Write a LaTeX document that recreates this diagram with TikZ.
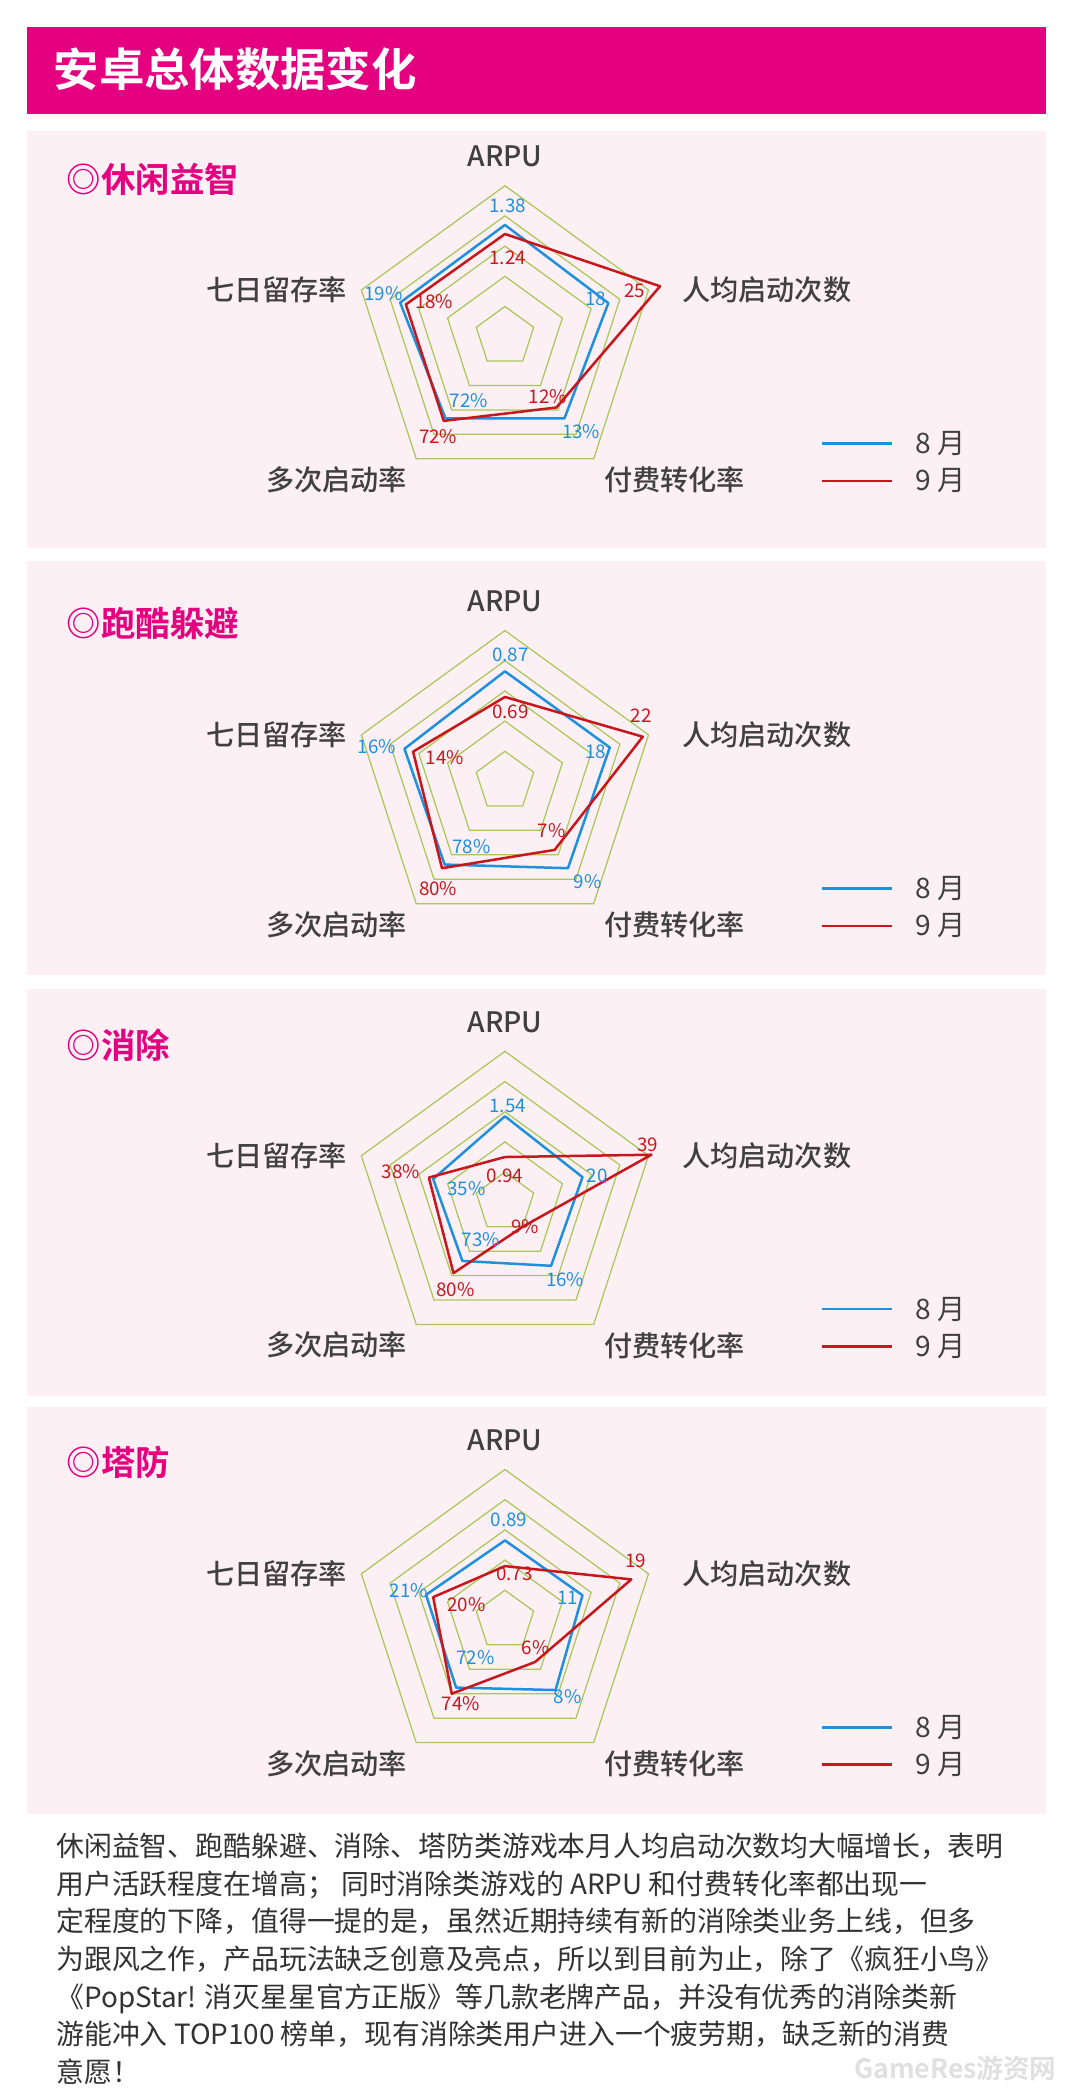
\documentclass[tikz,border=0pt]{standalone}
\usepackage{fontspec}
\setmainfont{Noto Sans CJK SC}
\newfontfamily\cjkbold[BoldFont={Noto Sans CJK SC Bold}]{Noto Sans CJK SC}
\newfontfamily\cjkmedium{Noto Sans CJK SC Medium}
\usetikzlibrary{positioning}
\definecolor{headmag}{HTML}{E4007F}
\definecolor{panelpink}{HTML}{FDF0F5}
\definecolor{augblue}{HTML}{1E90DC}
\definecolor{sepred}{HTML}{C8161D}
\definecolor{ringgreen}{HTML}{A9C85A}

% one radar polygon with five values (fractions of the outer ring)
\newcommand\datapoly[6]{%
  \draw[#1] ({90}:{#2*113}) coordinate (p1) -- ({18}:{#3*113}) coordinate (p2)
    -- ({-54}:{#4*113}) coordinate (p3) -- ({-126}:{#5*113}) coordinate (p4)
    -- ({162}:{#6*113}) coordinate (p5) -- cycle;}

% background rings, axis names, title and legend of one panel
\newcommand\radarframe[1]{%
  \foreach \r in {0.2,0.4,0.6,0.8,1.0}
    \draw[ring] ({90}:{\r*113}) -- ({18}:{\r*113}) -- ({-54}:{\r*113})
      -- ({-126}:{\r*113}) -- ({162}:{\r*113}) -- cycle;
  \node[axislabel] (arpu) at (0,135) {ARPU};
  \node[axislabel] (start) at (196,35) {人均启动次数};
  \node[axislabel] (pay) at (127,-107) {付费转化率};
  \node[axislabel] (multi) at (-126,-107) {多次启动率};
  \node[axislabel] (keep) at (-171,35) {七日留存率};
  \node[paneltitle, anchor=west] (title) at (-332,118) {◎#1};
  \coordinate (lb1) at (237,-80);
  \coordinate (lb2) at (290,-80);
  \coordinate (lr1) at (237,-108);
  \coordinate (lr2) at (290,-108);
  \draw[augblue, line width=1.6] (lb1) -- (lb2);
  \draw[sepred, line width=1.6] (lr1) -- (lr2);
  \node[legendtext, anchor=west] (aug) at (303,-80) {8 月};
  \node[legendtext, anchor=west] (sep) at (303,-108) {9 月};}

\begin{document}
\begin{tikzpicture}[
  x=0.3mm, y=0.3mm,
  ring/.style={draw=ringgreen, line width=0.8},
  blueline/.style={draw=augblue, line width=1.6, line join=round},
  redline/.style={draw=sepred, line width=1.6, line join=round},
  axislabel/.style={font=\cjkmedium\fontsize{18}{20}\selectfont, text=black!75},
  paneltitle/.style={font=\cjkbold\bfseries\fontsize{22}{24}\selectfont, text=headmag},
  legendtext/.style={font=\fontsize{18}{20}\selectfont, text=black!75},
  bval/.style={font=\fontsize{12}{14}\selectfont, text=augblue, inner sep=0pt},
  rval/.style={font=\fontsize{12}{14}\selectfont, text=sepred, inner sep=0pt},
  panel/.style={fill=panelpink, draw=none},
]
\useasboundingbox[fill=white] (0,0) rectangle (804,-1569);

% header
\fill[headmag] (20,-20) rectangle (783,-85);
\node[anchor=west, text=white, font=\cjkbold\bfseries\fontsize{29}{31}\selectfont] (head) at (36,-52) {安卓总体数据变化};

% panels
\fill[panel] (20,-98) rectangle (783,-410);
\fill[panel] (20,-420) rectangle (783,-730);
\fill[panel] (20,-740) rectangle (783,-1045);
\fill[panel] (20,-1053) rectangle (783,-1358);

% casual puzzle
\begin{scope}[shift={(378,-252)}]
  \radarframe{休闲益智}
  \datapoly{blueline}{0.74}{0.72}{0.67}{0.67}{0.73}
  \datapoly{redline}{0.68}{1.08}{0.58}{0.69}{0.69}
  \node[bval] (b1) at (2,98) {1.38};
  \node[rval] (r1) at (2,59) {1.24};
  \node[bval] (b2) at (68,28) {18};
  \node[rval] (r2) at (97,34) {25};
  \node[bval] (b3) at (57,-71) {13\%};
  \node[rval] (r3) at (32,-45) {12\%};
  \node[bval] (b4) at (-27,-48) {72\%};
  \node[rval] (r4) at (-50,-75) {72\%};
  \node[bval] (b5) at (-91,32) {19\%};
  \node[rval] (r5) at (-53,26) {18\%};
\end{scope}

% parkour
\begin{scope}[shift={(378,-585)}]
  \radarframe{跑酷躲避}
  \datapoly{blueline}{0.73}{0.73}{0.71}{0.68}{0.70}
  \datapoly{redline}{0.56}{0.96}{0.56}{0.71}{0.64}
  \node[bval] (b1) at (4,95) {0.87};
  \node[rval] (r1) at (4,52) {0.69};
  \node[bval] (b2) at (68,22) {18};
  \node[rval] (r2) at (102,49) {22};
  \node[bval] (b3) at (62,-75) {9\%};
  \node[rval] (r3) at (35,-37) {7\%};
  \node[bval] (b4) at (-25,-49) {78\%};
  \node[rval] (r4) at (-50,-80) {80\%};
  \node[bval] (b5) at (-96,26) {16\%};
  \node[rval] (r5) at (-45,18) {14\%};
\end{scope}

% match
\begin{scope}[shift={(378,-900)}]
  \radarframe{消除}
  \datapoly{blueline}{0.57}{0.54}{0.52}{0.48}{0.50}
  \datapoly{redline}{0.30}{1.02}{0.20}{0.58}{0.53}
  \node[bval] (b1) at (2,72) {1.54};
  \node[rval] (r1) at (0,20) {0.94};
  \node[bval] (b2) at (69,20) {20};
  \node[rval] (r2) at (107,43) {39};
  \node[bval] (b3) at (45,-58) {16\%};
  \node[rval] (r3) at (15,-18) {9\%};
  \node[bval] (b4) at (-18,-28) {73\%};
  \node[rval] (r4) at (-37,-65) {80\%};
  \node[bval] (b5) at (-29,10) {35\%};
  \node[rval] (r5) at (-78,23) {38\%};
\end{scope}

% tower defense
\begin{scope}[shift={(378,-1213)}]
  \radarframe{塔防}
  \datapoly{blueline}{0.53}{0.54}{0.57}{0.55}{0.55}
  \datapoly{redline}{0.36}{0.88}{0.34}{0.60}{0.50}
  \node[bval] (b1) at (3,75) {0.89};
  \node[rval] (r1) at (7,35) {0.73};
  \node[bval] (b2) at (47,17) {11};
  \node[rval] (r2) at (98,45) {19};
  \node[bval] (b3) at (47,-57) {8\%};
  \node[rval] (r3) at (23,-20) {6\%};
  \node[bval] (b4) at (-22,-28) {72\%};
  \node[rval] (r4) at (-33,-62) {74\%};
  \node[bval] (b5) at (-72,22) {21\%};
  \node[rval] (r5) at (-29,12) {20\%};
\end{scope}

% summary text
\node[anchor=north west, align=left, inner sep=0pt, text=black!80,
  font=\fontsize{17.8}{24}\selectfont] (summary) at (42,-1372) {%
休闲益智、跑酷躲避、消除、塔防类游戏本月人均启动次数均大幅增长，表明\\
用户活跃程度在增高； 同时消除类游戏的 ARPU 和付费转化率都出现一\\
定程度的下降，值得一提的是，虽然近期持续有新的消除类业务上线，但多\\
为跟风之作，产品玩法缺乏创意及亮点，所以到目前为止，除了《疯狂小鸟》\\
《PopStar! 消灭星星官方正版》等几款老牌产品，并没有优秀的消除类新\\
游能冲入 TOP100 榜单，现有消除类用户进入一个疲劳期，缺乏新的消费\\
意愿！};
\node[anchor=east, text=black!12, font=\cjkbold\bfseries\fontsize{17}{20}\selectfont] (mark) at (795,-1548) {GameRes游资网};
\end{tikzpicture}
\end{document}
